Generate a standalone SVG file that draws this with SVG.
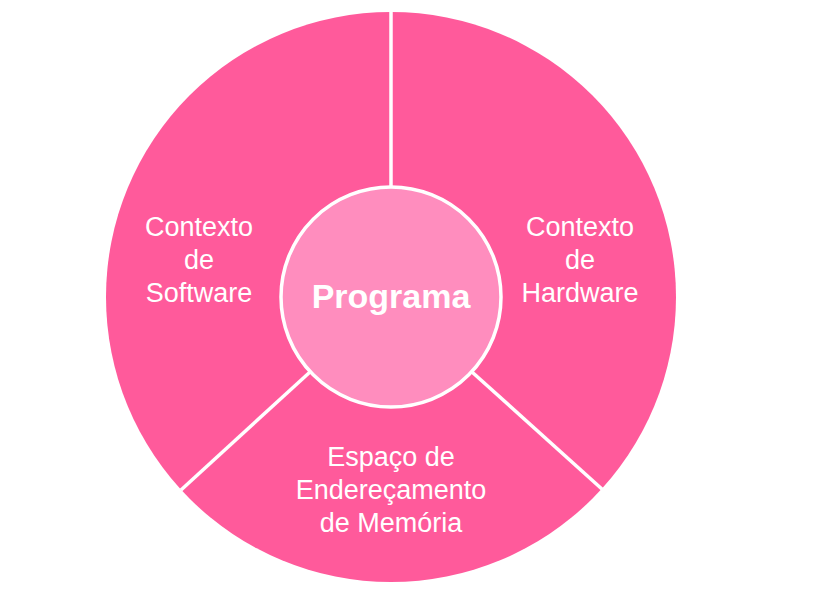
<svg xmlns="http://www.w3.org/2000/svg" width="822" height="602" viewBox="0 0 822 602">
<style>
.lbl{font-family:"Liberation Sans",Arial,sans-serif;font-size:27px;fill:#ffffff;text-anchor:middle}
.ctr{font-family:"Liberation Sans",Arial,sans-serif;font-size:34px;font-weight:bold;fill:#ffffff;text-anchor:middle}
.div{stroke:#ffffff;stroke-width:3.5;fill:none}
</style>
<rect width="822" height="602" fill="#ffffff"/>
<g id="ring">
<circle cx="391" cy="297" r="285" fill="#FF5A9B"/>
</g>
<g id="connectors">
<line class="div" x1="391" y1="8" x2="391" y2="190"/>
<line class="div" x1="181" y1="490" x2="310" y2="372"/>
<line class="div" x1="603" y1="490" x2="472" y2="372"/>
</g>
<g id="software">
<text class="lbl" x="199" y="236">Contexto</text>
<text class="lbl" x="199" y="269">de</text>
<text class="lbl" x="199" y="302">Software</text>
</g>
<g id="hardware">
<text class="lbl" x="580" y="236">Contexto</text>
<text class="lbl" x="580" y="269">de</text>
<text class="lbl" x="580" y="302">Hardware</text>
</g>
<g id="memoria">
<text class="lbl" x="391" y="466">Espaço de</text>
<text class="lbl" x="391" y="499">Endereçamento</text>
<text class="lbl" x="391" y="532">de Memória</text>
</g>
<g id="programa">
<circle cx="391" cy="297" r="110" fill="#FF8DBE" stroke="#ffffff" stroke-width="3.5"/>
<text class="ctr" x="391" y="308">Programa</text>
</g>
</svg>
